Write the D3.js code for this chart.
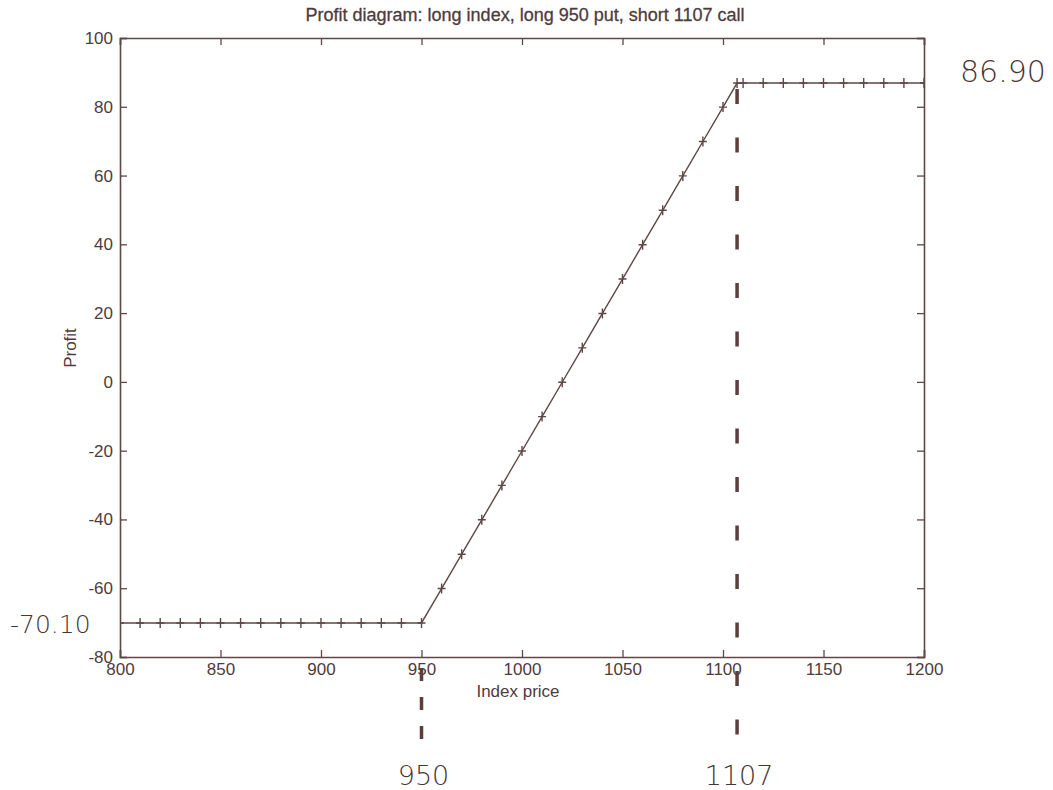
<!DOCTYPE html>
<html>
<head>
<meta charset="utf-8">
<script src="https://cdn.jsdelivr.net/npm/d3@7"></script>
<style>
  body { margin: 0; background: #fff; }
  svg text { fill: #4e3c3b; }
</style>
</head>
<body>
<div id="plot"></div>
<script>
// index prices (x) and profit at expiry (y)
var prices = [800, 810, 820, 830, 840, 850, 860, 870, 880, 890, 900, 910, 920, 930, 940, 950,
  960, 970, 980, 990, 1000, 1010, 1020, 1030, 1040, 1050, 1060, 1070, 1080, 1090, 1100,
  1107, 1110, 1120, 1130, 1140, 1150, 1160, 1170, 1180, 1190, 1200];
var profits = [-70.1, -70.1, -70.1, -70.1, -70.1, -70.1, -70.1, -70.1, -70.1, -70.1, -70.1, -70.1, -70.1, -70.1, -70.1, -70.1,
  -60.1, -50.1, -40.1, -30.1, -20.1, -10.1, -0.1, 9.9, 19.9, 29.9, 39.9, 49.9, 59.9, 69.9, 79.9,
  86.9, 86.9, 86.9, 86.9, 86.9, 86.9, 86.9, 86.9, 86.9, 86.9, 86.9];

var xTicks = [800, 850, 900, 950, 1000, 1050, 1100, 1150, 1200];
var yTicks = [-80, -60, -40, -20, 0, 20, 40, 60, 80, 100];

// hand-written notes on the print-out
var strikes = [950, 1107];
var strikeLabels = ["950", "1107"];
var levels = [-70.10, 86.90];
var levelLabels = ["-70.10", "86.90"];

var title = "Profit diagram: long index, long 950 put, short 1107 call";

var ink = "#5e4745";
var W = 1053, H = 790;
var margin = { top: 38, right: 129, bottom: 133, left: 120 };
var width = W - margin.left - margin.right,
  height = H - margin.top - margin.bottom;

var data = prices.map(function (p, i) { return { x: p, y: profits[i] }; });

var xScale = d3.scaleLinear().domain([800, 1200]).range([0, width]);
var yScale = d3.scaleLinear().domain([-80, 100]).range([height, 0]);

var svg = d3.select("#plot").append("svg")
  .attr("width", W)
  .attr("height", H);

var g = svg.append("g")
  .attr("transform", "translate(" + margin.left + "," + margin.top + ")");

g.append("clipPath").attr("id", "clip")
  .append("rect").attr("width", width).attr("height", height);

// axes, matlab style with inward ticks on all four sides
var axisFont = "Liberation Sans, Arial, sans-serif";
var plain = function (d) { return String(d); };

var xAxis = d3.axisBottom(xScale).tickValues(xTicks).tickSize(-7).tickPadding(6).tickFormat(plain);
var yAxis = d3.axisLeft(yScale).tickValues(yTicks).tickSize(-7).tickPadding(7).tickFormat(plain);

var gx = g.append("g")
  .attr("class", "x axis")
  .attr("transform", "translate(0," + height + ")")
  .call(xAxis);
var gy = g.append("g")
  .attr("class", "y axis")
  .call(yAxis);
var gxTop = g.append("g")
  .call(d3.axisTop(xScale).tickValues(xTicks).tickSize(-7).tickFormat(""));
var gyRight = g.append("g")
  .attr("transform", "translate(" + width + ",0)")
  .call(d3.axisRight(yScale).tickValues(yTicks).tickSize(-7).tickFormat(""));

[gx, gy, gxTop, gyRight].forEach(function (a) {
  a.select(".domain").attr("stroke", ink).attr("stroke-width", 1.6);
  a.selectAll(".tick line").attr("stroke", ink).attr("stroke-width", 1.3);
  a.selectAll(".tick text")
    .style("font-family", axisFont)
    .style("font-size", "17px")
    .style("fill", "#4e3c3b");
});

// profit line
var plotLine = d3.line()
  .x(function (d) { return xScale(d.x); })
  .y(function (d) { return yScale(d.y); });

g.append("path")
  .datum(data)
  .attr("d", plotLine)
  .attr("fill", "none")
  .attr("stroke", ink)
  .attr("stroke-width", 1.4);

// '+' markers
var mk = g.append("g").attr("clip-path", "url(#clip)");
mk.selectAll(".mark")
  .data(data)
  .enter().append("path")
  .attr("class", "mark")
  .attr("d", function (d) {
    var cx = xScale(d.x), cy = yScale(d.y);
    return "M" + (cx - 4) + "," + cy + "H" + (cx + 4) + "M" + cx + "," + (cy - 5) + "V" + (cy + 5);
  })
  .attr("stroke", ink)
  .attr("stroke-width", 1.4);

// labels
svg.append("text")
  .attr("x", margin.left + width / 2 + 3)
  .attr("y", 21)
  .attr("text-anchor", "middle")
  .style("font-family", axisFont)
  .style("font-size", "18px")
  .style("stroke", "#4e3c3b")
  .style("stroke-width", 0.3)
  .text(title);

svg.append("text")
  .attr("x", margin.left + width / 2 - 4)
  .attr("y", 697)
  .attr("text-anchor", "middle")
  .style("font-family", axisFont)
  .style("font-size", "17px")
  .text("Index price");

svg.append("text")
  .attr("transform", "translate(76,348) rotate(-90)")
  .attr("text-anchor", "middle")
  .style("font-family", axisFont)
  .style("font-size", "17px")
  .text("Profit");

// hand drawn dashed lines through the kinks
var hand = "DejaVu Sans, sans-serif";
var dashTop = [630, yScale(levels[1]) + 6];
var dashBottom = [height + 86, height + 86];
var dashPattern = ["13,16", "15,33.5"];

strikes.forEach(function (s, i) {
  g.append("line")
    .attr("x1", xScale(s)).attr("x2", xScale(s))
    .attr("y1", dashTop[i]).attr("y2", dashBottom[i])
    .attr("stroke", "#5a3f3d")
    .attr("stroke-width", 3.5)
    .attr("stroke-dasharray", dashPattern[i]);

  g.append("text")
    .attr("x", xScale(s) + 2)
    .attr("y", height + 128)
    .attr("text-anchor", "middle")
    .style("font-family", hand)
    .style("font-weight", 200)
    .style("font-size", "27px")
    .style("fill", "#4a3432")
    .text(strikeLabels[i]);
});

// hand written levels beside the plot
g.append("text")
  .attr("x", -110)
  .attr("y", yScale(levels[0]) + 10)
  .style("font-family", hand)
  .style("font-weight", 200)
  .style("font-size", "25px")
  .style("fill", "#4a3432")
  .text(levelLabels[0]);

g.append("text")
  .attr("x", width + 36)
  .attr("y", yScale(levels[1]) - 1)
  .style("font-family", hand)
  .style("font-weight", 200)
  .style("font-size", "30px")
  .style("fill", "#4a3432")
  .text(levelLabels[1]);
</script>
</body>
</html>
